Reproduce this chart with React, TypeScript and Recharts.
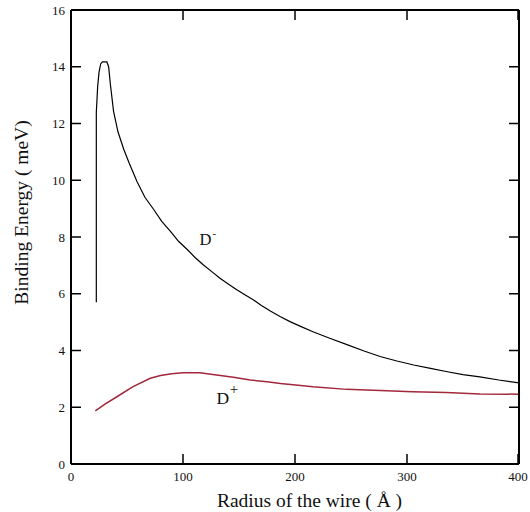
import React from 'react';
import { LineChart, Line, XAxis, YAxis } from 'recharts';

const X_TICKS = [0, 100, 200, 300, 400];
const Y_TICKS = [0, 2, 4, 6, 8, 10, 12, 14, 16];

// D- binding energy (meV) vs wire radius (Å)
const D_MINUS_R = [22.6, 22.6, 23.8, 25, 26.5, 28, 32, 33.6, 35.1, 38, 42, 47, 52, 59, 66, 74, 81, 89, 96, 104, 111, 118, 126, 133, 141, 148, 156, 163, 170, 178, 187, 196, 205, 216, 231, 247, 261, 276, 291, 306, 321, 336, 350, 365, 382, 400];
const D_MINUS_E = [5.7, 12.4, 13.3, 13.8, 14.1, 14.17, 14.17, 14.0, 13.4, 12.43, 11.7, 11.1, 10.6, 9.95, 9.4, 8.96, 8.55, 8.19, 7.85, 7.55, 7.27, 7.02, 6.77, 6.55, 6.33, 6.14, 5.95, 5.78, 5.59, 5.39, 5.19, 5.01, 4.85, 4.66, 4.43, 4.2, 3.99, 3.79, 3.63, 3.49, 3.37, 3.25, 3.15, 3.07, 2.96, 2.86];

// D+ binding energy (meV) vs wire radius (Å)
const D_PLUS_R = [21.7, 30, 41, 55, 70.8, 80, 90, 100, 115, 130, 145, 160, 175, 187, 205, 216, 246, 276, 305, 335, 365, 400];
const D_PLUS_E = [1.87, 2.1, 2.37, 2.72, 3.02, 3.12, 3.18, 3.22, 3.22, 3.14, 3.06, 2.96, 2.9, 2.84, 2.77, 2.72, 2.63, 2.59, 2.55, 2.52, 2.47, 2.46];

const dMinus = D_MINUS_R.map((r, i) => ({ r, e: D_MINUS_E[i] }));
const dPlus = D_PLUS_R.map((r, i) => ({ r, e: D_PLUS_E[i] }));

const FONT = "'Liberation Serif', 'Times New Roman', serif";
const TXT = '#111';
const fs = (size: number) => ({ fontFamily: FONT, fontSize: size });

const LeftTick = (p: any) => (
  <g>
    <line x1={p.x} y1={p.y} x2={p.x + 10} y2={p.y} stroke="#000" strokeWidth={1.5} />
    <text x={p.x - 6} y={p.y} dy="0.35em" textAnchor="end" style={fs(13)} fill={TXT}>
      {p.payload.value}
    </text>
  </g>
);
const RightTick = (p: any) => (
  <line x1={p.x} y1={p.y} x2={p.x - 10} y2={p.y} stroke="#000" strokeWidth={1.5} />
);
const BottomTick = (p: any) => (
  <g>
    <line x1={p.x} y1={p.y} x2={p.x} y2={p.y - 10} stroke="#000" strokeWidth={1.5} />
    <text x={p.x} y={p.y + 17} textAnchor="middle" style={fs(13)} fill={TXT}>
      {p.payload.value}
    </text>
  </g>
);
const TopTick = (p: any) => (
  <line x1={p.x} y1={p.y} x2={p.x} y2={p.y + 10} stroke="#000" strokeWidth={1.5} />
);

export default function App() {
  return (
    <div style={{ position: 'absolute', left: 0, top: 0, background: '#fff' }}>
      <LineChart width={530} height={512} margin={{ top: 0, right: 0, bottom: 0, left: 0 }}>
        <XAxis
          xAxisId="b"
          dataKey="r"
          type="number"
          domain={[0, 400]}
          ticks={X_TICKS}
          orientation="bottom"
          height={48}
          tickSize={0}
          tickMargin={0}
          tickLine={false}
          axisLine={{ stroke: '#000', strokeWidth: 2 }}
          tick={BottomTick}
          allowDataOverflow
        />
        <XAxis
          xAxisId="t"
          dataKey="r"
          type="number"
          domain={[0, 400]}
          ticks={X_TICKS}
          orientation="top"
          height={10}
          tickSize={0}
          tickMargin={0}
          tickLine={false}
          axisLine={{ stroke: '#000', strokeWidth: 2 }}
          tick={TopTick}
          allowDataOverflow
        />
        <YAxis
          yAxisId="l"
          type="number"
          domain={[0, 16]}
          ticks={Y_TICKS}
          orientation="left"
          width={71}
          tickSize={0}
          tickMargin={0}
          tickLine={false}
          axisLine={{ stroke: '#000', strokeWidth: 2 }}
          tick={LeftTick}
          allowDataOverflow
        />
        <YAxis
          yAxisId="r"
          type="number"
          domain={[0, 16]}
          ticks={Y_TICKS}
          orientation="right"
          width={11}
          tickSize={0}
          tickMargin={0}
          tickLine={false}
          axisLine={{ stroke: '#000', strokeWidth: 2 }}
          tick={RightTick}
          allowDataOverflow
        />
        <Line
          xAxisId="b"
          yAxisId="l"
          data={dMinus}
          dataKey="e"
          type="linear"
          stroke="#000"
          strokeWidth={1.2}
          dot={false}
          isAnimationActive={false}
        />
        <Line
          xAxisId="b"
          yAxisId="l"
          data={dPlus}
          dataKey="e"
          type="linear"
          stroke="#a3283c"
          strokeWidth={1.5}
          dot={false}
          isAnimationActive={false}
        />
        <text x={199.5} y={245} style={fs(16.5)} fill={TXT}>
          D<tspan dx={1} dy={-8} style={fs(11)}>-</tspan>
        </text>
        <text x={216.5} y={404} style={fs(17.5)} fill={TXT}>
          D<tspan dx={0.5} dy={-10} style={fs(15)}>+</tspan>
        </text>
        <text
          x={28}
          y={212.5}
          transform="rotate(-90 28 212.5)"
          textAnchor="middle"
          style={fs(19.5)}
          fill={TXT}
        >
          Binding Energy ( meV)
        </text>
        <text x={309.5} y={507} textAnchor="middle" style={fs(19.5)} fill={TXT}>
          Radius of the wire ( Å )
        </text>
      </LineChart>
    </div>
  );
}
